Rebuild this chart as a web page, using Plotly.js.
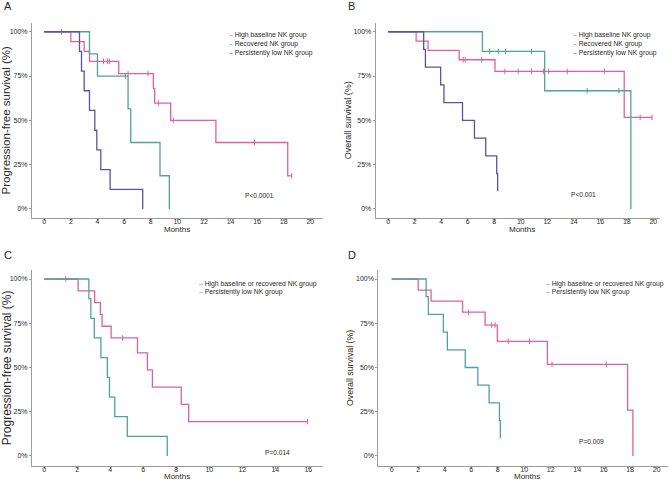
<!DOCTYPE html>
<html><head><meta charset="utf-8">
<script src="https://cdn.plot.ly/plotly-3.0.1.min.js"></script>
<style>html,body{margin:0;padding:0;background:#fff}#chart{width:671px;height:480px}</style>
</head><body><div id="chart"></div>
<script>
// ---------- shared tick labels ----------
const yTickVals = [0, 0.25, 0.5, 0.75, 1];
const yTickText = ['0%', '25%', '50%', '75%', '100%'];

// ---------- Panel A : progression-free survival, 3 groups ----------
const aHighTimes = [2.0, 3.0, 3.4, 5.6, 8.2, 8.3, 9.5, 12.9, 18.3];
const aHighSurv  = [0.944, 0.889, 0.833, 0.764, 0.68, 0.597, 0.5, 0.375, 0.187];
const aHighEnd   = 18.6;
const aHighCens  = [1.3, 4.45, 4.75, 4.9, 6.3, 7.8, 8.6, 9.7, 15.8, 18.6];
const aRecTimes  = [3.4, 4.0, 6.3, 6.5, 8.7, 9.4];
const aRecSurv   = [0.875, 0.75, 0.565, 0.375, 0.1875, 0];
const aRecCens   = [6.1];
const aLowTimes  = [2.65, 2.8, 3.0, 3.4, 3.8, 3.95, 4.25, 4.95, 7.4];
const aLowSurv   = [0.889, 0.778, 0.667, 0.556, 0.444, 0.333, 0.222, 0.111, 0];

// ---------- Panel B : overall survival, 3 groups ----------
const bHighTimes = [2.1, 3.0, 5.35, 8.05, 17.8];
const bHighSurv  = [0.947, 0.895, 0.842, 0.776, 0.517];
const bHighEnd   = 19.9;
const bHighCens  = [5.65, 5.8, 7.05, 8.8, 9.8, 10.8, 11.7, 12.1, 13.5, 16.3, 19.0, 19.9];
const bRecTimes  = [7.1, 11.8, 18.3];
const bRecSurv   = [0.889, 0.667, 0];
const bRecCens   = [7.65, 8.3, 8.85, 10.8, 15.0, 17.4];
const bLowTimes  = [2.67, 2.8, 3.95, 4.2, 5.6, 6.5, 7.35, 8.18, 8.25];
const bLowSurv   = [0.9, 0.8, 0.7, 0.6, 0.5, 0.4, 0.3, 0.2, 0.1];

// ---------- Panel C : progression-free survival, 2 groups ----------
const cHighTimes = [2.05, 3.05, 3.4, 3.5, 4.05, 5.65, 6.25, 6.55, 8.3, 8.75];
const cHighSurv  = [0.933, 0.867, 0.8, 0.733, 0.667, 0.583, 0.486, 0.389, 0.292, 0.194];
const cHighEnd   = 15.95;
const cHighCens  = [1.3, 4.75, 15.95];
const cLowTimes  = [2.7, 2.82, 3.03, 3.43, 3.82, 3.95, 4.27, 5.03, 7.45];
const cLowSurv   = [0.889, 0.778, 0.667, 0.556, 0.444, 0.333, 0.222, 0.111, 0];

// ---------- Panel D : overall survival, 2 groups ----------
const dHighTimes = [2.0, 2.97, 5.35, 7.05, 7.97, 11.75, 17.8, 18.2];
const dHighSurv  = [0.9375, 0.875, 0.8125, 0.74, 0.648, 0.518, 0.259, 0];
const dHighCens  = [5.8, 7.55, 7.8, 8.8, 10.4, 12.1, 16.2];
const dLowTimes  = [2.6, 2.77, 3.9, 4.2, 5.55, 6.5, 7.35, 8.13, 8.2];
const dLowSurv   = [0.9, 0.8, 0.7, 0.6, 0.5, 0.4, 0.3, 0.2, 0.1];

// ---------- text ----------
const legendA = ['High baseline NK group', 'Recovered NK group', 'Persistently low NK group'];
const legendC = ['High baseline or recovered NK group', 'Persistently low NK group'];
const pValues = ['P&lt;0.0001', 'P&lt;0.001', 'P=0.014', 'P=0.009'];
const panelLetters = ['A', 'B', 'C', 'D'];
const xTitle = 'Months';

// ---------- styles ----------
const PINK = '#E0609E', TEAL = '#4FA39A', PURPLE = '#5B52A7';
const AXC = '#9c9c9c', TXT = '#2a2a2a';
const FONT = 'Liberation Sans, Arial, Helvetica, sans-serif';

function stepTrace(times, surv, end, color, xa, ya, name) {
  const x = [0], y = [1];
  for (let i = 0; i < times.length; i++) { x.push(times[i]); y.push(surv[i]); }
  if (end !== undefined && end > times[times.length - 1]) { x.push(end); y.push(surv[surv.length - 1]); }
  return { type: 'scatter', mode: 'lines', x, y, xaxis: xa, yaxis: ya, name,
    line: { shape: 'hv', color, width: 1.3 }, showlegend: false, hoverinfo: 'skip' };
}
function survAt(times, surv, t) {
  let s = 1;
  for (let i = 0; i < times.length; i++) if (times[i] <= t) s = surv[i];
  return s;
}
function censTrace(cens, times, surv, color, xa, ya) {
  return { type: 'scatter', mode: 'markers', x: cens, y: cens.map(t => survAt(times, surv, t)),
    xaxis: xa, yaxis: ya, showlegend: false, hoverinfo: 'skip',
    marker: { symbol: 'line-ns-open', size: 4, color, line: { color, width: 1 } } };
}

const data = [
  stepTrace(aHighTimes, aHighSurv, aHighEnd, PINK, 'x', 'y', legendA[0]),
  censTrace(aHighCens, aHighTimes, aHighSurv, PINK, 'x', 'y'),
  stepTrace(aRecTimes, aRecSurv, undefined, TEAL, 'x', 'y', legendA[1]),
  censTrace(aRecCens, aRecTimes, aRecSurv, TEAL, 'x', 'y'),
  stepTrace(aLowTimes, aLowSurv, undefined, PURPLE, 'x', 'y', legendA[2]),

  stepTrace(bHighTimes, bHighSurv, bHighEnd, PINK, 'x2', 'y2', legendA[0]),
  censTrace(bHighCens, bHighTimes, bHighSurv, PINK, 'x2', 'y2'),
  stepTrace(bRecTimes, bRecSurv, undefined, TEAL, 'x2', 'y2', legendA[1]),
  censTrace(bRecCens, bRecTimes, bRecSurv, TEAL, 'x2', 'y2'),
  stepTrace(bLowTimes, bLowSurv, undefined, PURPLE, 'x2', 'y2', legendA[2]),

  stepTrace(cHighTimes, cHighSurv, cHighEnd, PINK, 'x3', 'y3', legendC[0]),
  censTrace(cHighCens, cHighTimes, cHighSurv, PINK, 'x3', 'y3'),
  stepTrace(cLowTimes, cLowSurv, undefined, TEAL, 'x3', 'y3', legendC[1]),

  stepTrace(dHighTimes, dHighSurv, undefined, PINK, 'x4', 'y4', legendC[0]),
  censTrace(dHighCens, dHighTimes, dHighSurv, PINK, 'x4', 'y4'),
  stepTrace(dLowTimes, dLowSurv, undefined, TEAL, 'x4', 'y4', legendC[1])
];

const W = 671, H = 480, MB = 14;
const px = v => v / W, py = v => (H - MB - v) / (H - MB);

function xAxis(domain, range, anchor, dtick) {
  return { domain, range, anchor, dtick, tick0: 0, showline: true, linecolor: AXC, linewidth: 1,
    ticks: 'outside', ticklen: 2, tickcolor: AXC, tickwidth: 1, showgrid: false, zeroline: false,
    tickfont: { family: FONT, size: 7, color: TXT }, ticklabelstandoff: -5 };
}
function yAxis(domain, range, anchor, title, size, standoff) {
  return { domain, range, anchor, tickvals: yTickVals, ticktext: yTickText, showline: true,
    linecolor: AXC, linewidth: 1, ticks: 'outside', ticklen: 2, tickcolor: AXC, tickwidth: 1,
    showgrid: false, zeroline: false, tickfont: { family: FONT, size: 7, color: TXT },
    ticklabelstandoff: 0,
    title: { text: title, font: { family: FONT, size, color: TXT }, standoff } };
}

const ann = [];
function addText(text, x, y, size, xanchor) {
  ann.push({ xref: 'paper', yref: 'paper', x: px(x), y: py(y), text, showarrow: false,
    xanchor: xanchor || 'left', yanchor: 'middle', font: { family: FONT, size, color: TXT } });
}
function legendItem(label, color, x, y) {
  addText('<span style="color:' + color + '">–</span> ' + label, x, y, 6.8);
}
// panel letters
addText(panelLetters[0], 2, 6, 11);
addText(panelLetters[1], 346, 6, 11);
addText(panelLetters[2], 2, 255, 11);
addText(panelLetters[3], 346, 255, 11);
// x-axis titles
addText(xTitle, 177, 229.5, 8, 'center');
addText(xTitle, 522, 229.5, 8, 'center');
addText(xTitle, 177, 476.5, 8, 'center');
addText(xTitle, 527, 476.5, 8, 'center');
// legends
legendItem(legendA[0], PINK, 227, 34.5);
legendItem(legendA[1], TEAL, 227, 43.5);
legendItem(legendA[2], PURPLE, 227, 52.5);
legendItem(legendA[0], PINK, 571, 34.5);
legendItem(legendA[1], TEAL, 571, 43.5);
legendItem(legendA[2], PURPLE, 571, 52.5);
legendItem(legendC[0], PINK, 197, 283.5);
legendItem(legendC[1], TEAL, 197, 292);
legendItem(legendC[0], PINK, 544, 283.5);
legendItem(legendC[1], TEAL, 544, 292);
// p values
addText(pValues[0], 243, 196, 6.6);
addText(pValues[1], 569, 194.5, 6.6);
addText(pValues[2], 263, 452, 6.6);
addText(pValues[3], 577, 441, 6.6);

const layout = {
  width: W, height: H, margin: { l: 0, r: 0, t: 0, b: MB },
  paper_bgcolor: '#fff', plot_bgcolor: '#fff', showlegend: false,
  font: { family: FONT, color: TXT },
  xaxis:  xAxis([px(32), px(323)], [-0.92, 20.95], 'y', 2),
  yaxis:  yAxis([py(218), py(22.7)], [-0.051, 1.051], 'x', 'Progression-free survival (%)', 11.5, 4),
  xaxis2: xAxis([px(375.7), px(660)], [-0.95, 20.5], 'y2', 2),
  yaxis2: yAxis([py(218), py(22.7)], [-0.051, 1.051], 'x2', 'Overall survival (%)', 9, 0),
  xaxis3: xAxis([px(32), px(322.5)], [-0.745, 16.86], 'y3', 2),
  yaxis3: yAxis([py(465.7), py(270)], [-0.055, 1.051], 'x3', 'Progression-free survival (%)', 12, 4),
  xaxis4: xAxis([px(378.3), px(668)], [-1.01, 20.85], 'y4', 2),
  yaxis4: yAxis([py(465.7), py(270)], [-0.055, 1.051], 'x4', 'Overall survival (%)', 8.8, 0),
  annotations: ann
};

Plotly.newPlot('chart', data, layout, { displayModeBar: false, staticPlot: true });
</script></body></html>
